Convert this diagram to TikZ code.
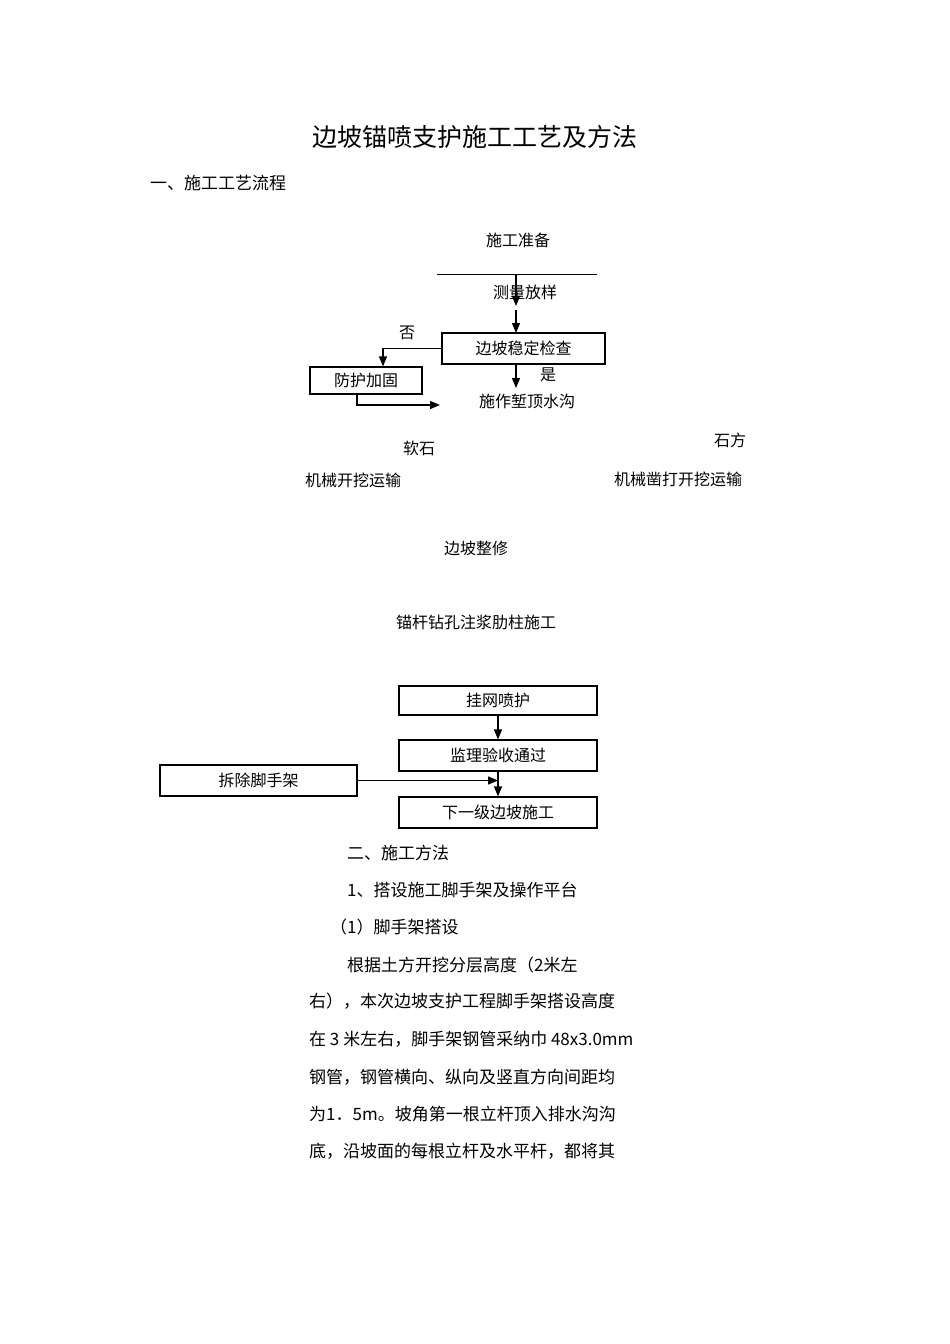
\documentclass[tikz,border=0pt]{standalone}
\usepackage{fontspec}
\setmainfont{Noto Sans CJK SC}
\usetikzlibrary{arrows.meta}
\begin{document}
\begin{tikzpicture}[x=1pt,y=-1pt,
  txt/.style={inner sep=0pt,font=\fontsize{16}{18}\selectfont},
  para/.style={txt,anchor=west,font=\fontsize{17}{20}\selectfont},
  boxn/.style={draw,line width=1.2pt,inner sep=0pt,font=\fontsize{16}{18}\selectfont},
  arr/.style={line width=1.2pt,-{Triangle[length=10pt,width=8pt]}},
  ln/.style={line width=1pt}]
\path[use as bounding box,fill=white] (0,0) rectangle (950,1344);
\node[txt,font=\fontsize{25}{28}\selectfont] (title) at (475,137) {边坡锚喷支护施工工艺及方法};
\node[para] (h1) at (150,183) {一、施工工艺流程};
\node[txt] (prep) at (518,240) {施工准备};
\coordinate (l1) at (437,274); \coordinate (l2) at (597,274);
\draw[ln] (l1) -- (l2);
\coordinate (a0) at (516,274); \coordinate (a1) at (516,310); \coordinate (a2) at (516,333);
\draw[arr] (a0) -- (516,306);
\node[txt] (survey) at (525,292) {测量放样};
\node[boxn,minimum width=163pt,minimum height=31pt] (check) at (523.5,348.5) {边坡稳定检查};
\draw[arr] (a1) -- (a2);
\node[txt] (no) at (407,333) {否};
\node[boxn,minimum width=112pt,minimum height=27pt] (protect) at (366,380.5) {防护加固};
\draw[arr] (check.west) -| (protect.north -| 383,0);
\coordinate (pe) at (440,405);
\draw[arr] (protect.south -| 357,0) |- (pe);
\node[txt] (yes) at (548,375) {是};
\node[txt] (ditch) at (527,401) {施作堑顶水沟};
\draw[arr] (check.south -| 516,0) -- (516,388);
\node[txt] (soft) at (419,448) {软石};
\node[txt] (stone) at (730,440) {石方};
\node[txt] (mech1) at (353,480) {机械开挖运输};
\node[txt] (mech2) at (678,479) {机械凿打开挖运输};
\node[txt] (trim) at (476,548) {边坡整修};
\node[txt] (anchor) at (476,622) {锚杆钻孔注浆肋柱施工};
\node[boxn,minimum width=198pt,minimum height=29pt] (net) at (498,700.5) {挂网喷护};
\node[boxn,minimum width=198pt,minimum height=31pt] (accept) at (498,755.5) {监理验收通过};
\node[boxn,minimum width=198pt,minimum height=31pt] (next) at (498,812.5) {下一级边坡施工};
\node[boxn,minimum width=197pt,minimum height=31pt] (remove) at (258.5,780.5) {拆除脚手架};
\draw[arr] (net) -- (accept);
\draw[arr] (accept) -- (next);
\draw[arr] (remove.east) -- (remove.east -| accept.south);
\node[para] (h2) at (347,853) {二、施工方法};
\node[para] (h3) at (347,890) {1、搭设施工脚手架及操作平台};
\node[para] (h4) at (330,927) {（1）脚手架搭设};
\node[para] (p1) at (347,965) {根据土方开挖分层高度（2米左};
\node[para] (p2) at (309,1001) {右），本次边坡支护工程脚手架搭设高度};
\node[para] (p3) at (309,1039) {在 3 米左右，脚手架钢管采纳巾 48x3.0mm};
\node[para] (p4) at (309,1077) {钢管，钢管横向、纵向及竖直方向间距均};
\node[para] (p5) at (309,1114) {为1．5m。坡角第一根立杆顶入排水沟沟};
\node[para] (p6) at (309,1151) {底，沿坡面的每根立杆及水平杆，都将其};
\end{tikzpicture}
\end{document}
